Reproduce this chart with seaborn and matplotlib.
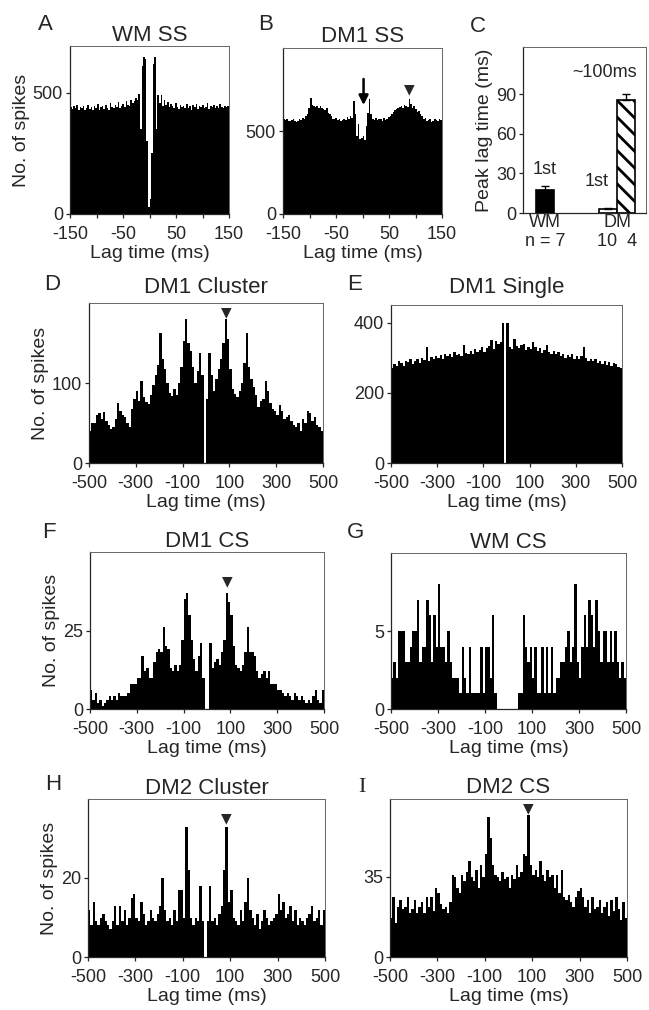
import numpy as np
import matplotlib
matplotlib.use('Agg')
import matplotlib.pyplot as plt
import seaborn as sns

sns.set_style('ticks')
plt.rcParams['font.family'] = ['Liberation Sans', 'DejaVu Sans']
plt.rcParams['hatch.linewidth'] = 2.0
plt.rcParams['axes.linewidth'] = 0.9
plt.rcParams['axes.unicode_minus'] = False

# ---- values (spike counts per lag bin) ----
# A: WM SS, -150..150 ms, 3 ms bins
wm_ss = [440, 432, 445, 438, 450, 428, 441, 436, 447, 430,
         439, 452, 433, 444, 429, 446, 437, 455, 431, 442,
         448, 435, 451, 438, 429, 457, 443, 436, 449, 440,
         462, 438, 447, 455, 441, 468, 450, 445, 472, 458,
         466, 480, 470, 495, 350, 610, 650, 640, 300, 30,
         60, 250, 620, 650, 350, 490, 460, 492, 448, 470,
         452, 461, 440, 455, 446, 437, 458, 444, 432, 450,
         441, 447, 436, 453, 439, 445, 430, 449, 442, 456,
         434, 446, 440, 451, 437, 444, 459, 433, 447, 441,
         452, 438, 445, 436, 454, 443, 439, 448, 441, 446]

# B: DM1 SS, -150..150 ms, 3 ms bins
dm1_ss = [570, 565, 572, 560, 558, 568, 575, 562, 555, 560,
          570, 566, 580, 575, 590, 605, 640, 700, 655, 650,
          645, 652, 640, 648, 638, 630, 625, 640, 610, 600,
          590, 575, 570, 580, 565, 572, 560, 568, 575, 565,
          585, 572, 590, 580, 680, 600, 470, 540, 450, 460,
          470, 445, 530, 610, 690, 600, 575, 568, 580, 565,
          572, 570, 560, 578, 566, 575, 585, 590, 600, 615,
          625, 635, 640, 645, 650, 640, 655, 648, 645, 690,
          660, 640, 650, 630, 615, 620, 600, 590, 575, 580,
          560, 565, 570, 552, 560, 575, 565, 558, 570, 565]

# C: peak lag time (ms)
c_pos = [0.0, 3.5, 4.5]
c_mean = [17.5, 3.0, 86.0]
c_err = [3.0, 0.8, 4.5]

# D: DM1 Cluster, -500..500 ms, 10 ms bins
dm1_cluster = [40, 50, 50, 60, 62, 55, 64, 52, 48, 42,
               45, 55, 75, 65, 60, 58, 50, 45, 68, 80,
               90, 78, 102, 82, 76, 74, 85, 98, 110, 122,
               163, 130, 118, 100, 88, 84, 92, 85, 100, 120,
               152, 180, 150, 140, 120, 100, 115, 138, 110, 0,
               80, 138, 110, 90, 105, 118, 130, 150, 180, 155,
               118, 92, 86, 82, 90, 100, 125, 163, 120, 105,
               95, 85, 70, 78, 80, 102, 90, 75, 68, 65,
               60, 72, 65, 55, 58, 60, 52, 48, 45, 50,
               40, 55, 50, 65, 62, 52, 58, 48, 45, 40]

# E: DM1 Single, -500..500 ms, 10 ms bins
dm1_single = [270, 282, 278, 290, 285, 276, 292, 288, 296, 284,
              290, 298, 286, 300, 294, 330, 292, 302, 296, 305,
              300, 308, 296, 312, 305, 310, 302, 318, 308, 312,
              306, 338, 315, 310, 320, 312, 325, 316, 322, 330,
              318, 328, 335, 352, 325, 348, 340, 345, 400, 0,
              400, 330, 325, 355, 335, 328, 338, 340, 322, 330,
              326, 345, 332, 320, 328, 315, 322, 336, 318, 312,
              320, 310, 316, 305, 312, 300, 308, 302, 310, 298,
              304, 296, 306, 330, 300, 292, 298, 290, 296, 286,
              292, 284, 290, 280, 288, 278, 286, 282, 275, 272]

# F: DM1 CS, -500..500 ms, 10 ms bins
dm1_cs = [6, 3, 5, 2, 3, 1, 2, 3, 4, 3,
          4, 3, 5, 4, 4, 4, 5, 8, 8, 8,
          10, 10, 17, 12, 13, 10, 10, 15, 18, 19,
          18, 26, 20, 19, 13, 12, 14, 12, 14, 22,
          35, 37, 30, 22, 16, 12, 17, 21, 10, 0,
          0, 21, 13, 15, 16, 14, 18, 22, 37, 34,
          30, 20, 14, 13, 12, 14, 18, 26, 18, 18,
          17, 12, 10, 11, 12, 10, 12, 8, 8, 8,
          6, 6, 5, 4, 5, 4, 3, 5, 4, 3,
          4, 3, 2, 3, 2, 4, 6, 3, 2, 6]

# G: WM CS, -500..500 ms, 10 ms bins
wm_cs = [2, 3, 2, 5, 5, 5, 3, 3, 4, 5,
         5, 7, 3, 4, 4, 7, 6, 3, 6, 4,
         8, 4, 4, 3, 5, 3, 2, 2, 2, 1,
         4, 2, 1, 4, 1, 1, 1, 1, 4, 1,
         4, 4, 2, 6, 1, 0, 0, 0, 0, 0,
         0, 0, 0, 0, 1, 1, 6, 4, 3, 4,
         2, 4, 1, 1, 4, 1, 4, 1, 4, 1,
         2, 2, 3, 3, 4, 5, 3, 4, 8, 3,
         2, 4, 6, 4, 7, 6, 4, 7, 5, 3,
         5, 5, 3, 5, 3, 5, 3, 2, 3, 2]

# H: DM2 Cluster, -500..500 ms, 10 ms bins
dm2_cluster = [12, 8, 14, 9, 8, 10, 11, 9, 8, 7,
               9, 13, 8, 13, 9, 12, 8, 10, 15, 16,
               10, 9, 14, 11, 8, 9, 12, 10, 9, 11,
               13, 20, 12, 9, 10, 8, 12, 9, 17, 17,
               10, 33, 22, 10, 8, 10, 9, 18, 9, 0,
               9, 18, 9, 10, 8, 11, 13, 22, 33, 14,
               17, 10, 9, 8, 12, 9, 14, 20, 12, 10,
               8, 11, 7, 9, 12, 10, 8, 9, 10, 11,
               16, 12, 14, 10, 11, 13, 9, 12, 8, 10,
               9, 8, 10, 11, 13, 9, 10, 12, 8, 12]

# I: DM2 CS, -500..500 ms, 10 ms bins
dm2_cs = [17, 26, 15, 22, 25, 21, 22, 26, 19, 21,
          25, 19, 22, 24, 19, 26, 22, 26, 20, 30,
          28, 23, 21, 22, 19, 24, 36, 35, 30, 28,
          36, 33, 37, 42, 35, 33, 38, 30, 40, 35,
          45, 61, 52, 40, 36, 35, 33, 37, 34, 35,
          30, 36, 34, 40, 35, 37, 45, 44, 62, 40,
          36, 38, 35, 42, 36, 33, 38, 35, 36, 30,
          36, 28, 38, 26, 25, 27, 24, 22, 26, 29,
          30, 26, 22, 25, 19, 26, 21, 22, 25, 19,
          22, 24, 18, 25, 20, 26, 21, 16, 24, 17]

W, H = 649, 1010
fig = plt.figure(figsize=(W / 100, H / 100), dpi=100)


def add_ax(l, t, r, b):
    return fig.add_axes([l / W, 1 - b / H, (r - l) / W, (b - t) / H])


def style_ax(ax):
    for s in ['top', 'right']:
        ax.spines[s].set_color('#666666')
        ax.spines[s].set_linewidth(0.7)
    ax.tick_params(direction='out', length=3, width=0.9, pad=2, labelsize=13)
    ax.tick_params(axis='x', pad=5.5)
    ax.tick_params(which='minor', direction='out', length=3, width=0.9)


def hist_panel(ax, vals, span, ytop, yticks, xticks, title, tpad, minor=None):
    n = len(vals)
    edges = np.linspace(-span, span, n + 1)
    centers = (edges[:-1] + edges[1:]) / 2
    sns.histplot(x=list(centers), weights=list(vals), bins=list(edges), ax=ax,
                 color='black', alpha=1, linewidth=0, antialiased=False)
    ax.set_xlim(-span, span)
    ax.set_ylim(0, ytop)
    ax.set_yticks(yticks)
    ax.set_xticks(xticks)
    if minor is not None:
        ax.set_xticks(minor, minor=True)
    ax.set_xlabel('Lag time (ms)', fontsize=14, labelpad=1.5)
    ax.set_ylabel('')
    ax.set_title(title, fontsize=16, pad=tpad)
    style_ax(ax)
    return centers


def mark_peak(ax, centers, vals, gap=3, min_lag=40):
    # triangle over the largest bin on the positive-lag side
    vals = np.asarray(vals)
    side = centers > min_lag
    i = np.argmax(np.where(side, vals, -1))
    ax.annotate('▼', xy=(centers[i], vals[i]), xytext=(0, gap),
                textcoords='offset points', ha='center', va='bottom',
                fontsize=10, family='DejaVu Sans')


ticks_short = [-150, -50, 50, 150]
minor_short = [-100, 0, 100]
ticks_long = [-500, -300, -100, 100, 300, 500]

# A
axA = add_ax(70, 46, 229, 214)
hist_panel(axA, wm_ss, 150, 694, [0, 500], ticks_short, 'WM SS', 3, minor_short)
axA.set_ylabel('No. of spikes', fontsize=14, labelpad=2)

# B
axB = add_ax(283, 48, 442, 214)
cB = hist_panel(axB, dm1_ss, 150, 1000, [0, 500], ticks_short, 'DM1 SS', 4.5, minor_short)
axB.annotate('', xy=(2, 640), xytext=(2, 830),
             arrowprops=dict(arrowstyle='-|>', color='black', lw=1.8, mutation_scale=14))
mark_peak(axB, cB, dm1_ss, gap=2)

# C
axC = add_ax(523, 47, 646, 213)
sns.barplot(x=c_pos, y=c_mean, native_scale=True, width=1.0, color='black',
            errorbar=None, ax=axC, edgecolor='black', linewidth=1.2, saturation=1)
bars = axC.patches
bars[1].set_facecolor('white')
bars[2].set_facecolor('white')
bars[2].set_hatch('\\\\')
axC.errorbar(c_pos, c_mean, yerr=[[0] * 3, c_err], fmt='none', ecolor='black',
             elinewidth=1, capsize=3, capthick=1)
axC.set_xlim(-1.2, 5.6)
axC.set_ylim(0, 126)
axC.set_yticks([0, 30, 60, 90])
axC.set_xticks([0, 4.0])
axC.set_xticklabels(['WM\nn = 7', 'DM\n10  4'], linespacing=1.15)
axC.set_ylabel('Peak lag time (ms)', fontsize=14, labelpad=2)
style_ax(axC)
axC.tick_params(axis='x', length=0, pad=1)
axC.text(0, 33, '1st', ha='center', va='center', fontsize=13)
axC.text(2.85, 24, '1st', ha='center', va='center', fontsize=13)
axC.text(3.3, 107, '~100ms', ha='center', va='center', fontsize=13)

# D
axD = add_ax(89, 303, 323, 463)
cD = hist_panel(axD, dm1_cluster, 500, 200, [0, 100], ticks_long, 'DM1 Cluster', 7)
axD.set_ylabel('No. of spikes', fontsize=14, labelpad=2)
mark_peak(axD, cD, dm1_cluster, gap=0)

# E
axE = add_ax(391, 305, 622, 463)
hist_panel(axE, dm1_single, 500, 451, [0, 200, 400], ticks_long, 'DM1 Single', 8.5)

# F
axF = add_ax(90, 552, 324, 709)
cF = hist_panel(axF, dm1_cs, 500, 50, [0, 25], ticks_long, 'DM1 CS', 3)
axF.set_ylabel('No. of spikes', fontsize=14, labelpad=2)
mark_peak(axF, cF, dm1_cs, gap=3)

# G
axG = add_ax(391, 553, 626, 709)
hist_panel(axG, wm_cs, 500, 10, [0, 5], ticks_long, 'WM CS', 3.5)

# H
axH = add_ax(88, 799, 325, 957)
cH = hist_panel(axH, dm2_cluster, 500, 40, [0, 20], ticks_long, 'DM2 Cluster', 3)
axH.set_ylabel('No. of spikes', fontsize=14, labelpad=2)
mark_peak(axH, cH, dm2_cluster, gap=1)

# I
axI = add_ax(390, 799, 627, 957)
cI = hist_panel(axI, dm2_cs, 500, 69, [0, 35], ticks_long, 'DM2 CS', 4)
mark_peak(axI, cI, dm2_cs, gap=0)

# panel letters
letters = [('A', 45, 25), ('B', 266, 25), ('C', 478, 27), ('D', 52, 285),
           ('E', 355, 285), ('F', 49, 533), ('G', 355, 532), ('H', 53, 785)]
for lab, px, py in letters:
    fig.text(px / W, 1 - py / H, lab, fontsize=16, ha='center', va='center')
fig.text(362 / W, 1 - 787 / H, 'I', fontsize=16, ha='center', va='center',
         family=['Liberation Serif', 'DejaVu Serif'])

fig.savefig('out.png', dpi=100)
